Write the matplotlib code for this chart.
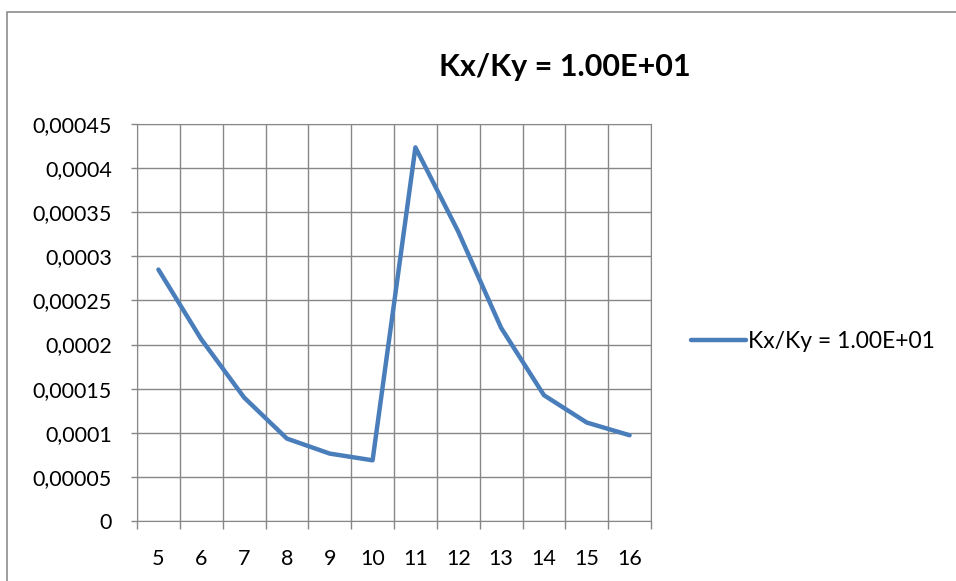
import matplotlib.pyplot as plt
from matplotlib.patches import Rectangle
import numpy as np

# values
categories = ['5', '6', '7', '8', '9', '10', '11', '12', '13', '14', '15', '16']
values = [0.000285, 0.000206, 0.000140, 0.0000934, 0.0000764, 0.0000688,
          0.0004235, 0.000328, 0.000219, 0.0001426, 0.0001116, 0.0000972]
yticks = [0, 0.00005, 0.0001, 0.00015, 0.0002, 0.00025, 0.0003, 0.00035, 0.0004, 0.00045]
ytick_labels = ['0', '0,00005', '0,0001', '0,00015', '0,0002', '0,00025',
                '0,0003', '0,00035', '0,0004', '0,00045']
series_name = 'Kx/Ky = 1.00E+01'

plt.rcParams['font.family'] = ['Lato', 'DejaVu Sans']
grid_col = '#878787'

fig = plt.figure(figsize=(9.56, 5.81), dpi=100)
# chart border (right and bottom edges fall outside the picture)
fig.patches.append(Rectangle((7/956, -0.05), 1.0, 1 - 12/581 + 0.05,
                             transform=fig.transFigure, fill=False,
                             edgecolor='#8c8c8c', linewidth=1.2))

ax = fig.add_axes([137/956, 1 - 521/581, (651 - 137)/956, (521 - 124)/581])
x = np.arange(len(categories))
ax.plot(x, values, color='#4A7EBB', linewidth=3.2, solid_capstyle='round',
        solid_joinstyle='round', label=series_name)

ax.set_xlim(-0.5, len(categories) - 0.5)
ax.set_ylim(0, 0.00045)
ax.set_yticks(yticks)
ax.set_yticklabels(ytick_labels)
ax.set_xticks(x)
ax.set_xticklabels(categories)
ax.set_xticks(np.arange(len(categories) + 1) - 0.5, minor=True)

for v in np.arange(len(categories) + 1) - 0.5:
    ax.axvline(v, color=grid_col, linewidth=1, zorder=0)
for t in yticks:
    ax.axhline(t, color=grid_col, linewidth=1, zorder=0)

ax.tick_params(axis='x', which='major', length=0, labelsize=15.5, pad=20)
ax.tick_params(axis='x', which='minor', length=6, color=grid_col, width=1)
ax.tick_params(axis='y', length=4, color=grid_col, width=1, labelsize=15.5, pad=14)
for s in ax.spines.values():
    s.set_color(grid_col)

fig.text(565/956, 1 - 67/581, series_name, ha='center', va='center',
         fontsize=22, fontweight='bold')

fig.legend(loc='center left', bbox_to_anchor=(682/956, 1 - 342/581),
           frameon=False, fontsize=16.5, handlelength=2.4, handletextpad=0.1,
           borderaxespad=0)

fig.savefig('out.png', dpi=100)
